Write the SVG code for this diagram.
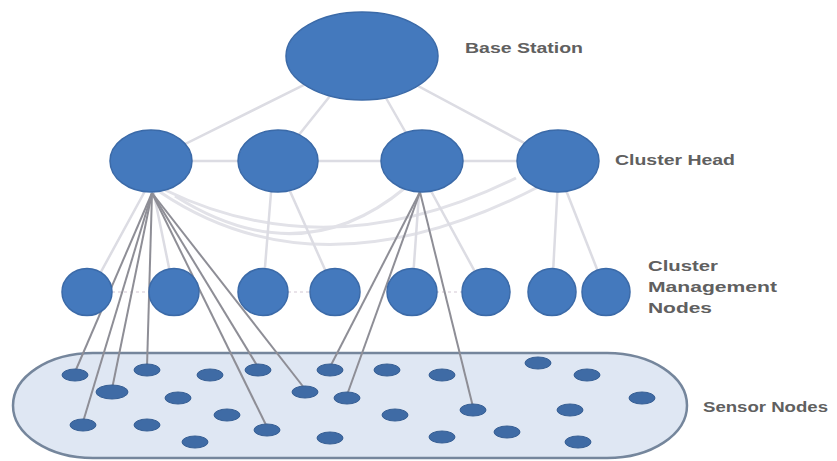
<svg xmlns="http://www.w3.org/2000/svg" width="837" height="461" viewBox="0 0 837 461">
<style>
.node{fill:#4479bd;stroke:#3b6aa8;stroke-width:1.5}
.sn{fill:#3f6ba5;stroke:#375f94;stroke-width:1}
.lite{stroke:#dcdce3;stroke-width:2.5;fill:none;stroke-linecap:round}
.curve{stroke:#e2e2e8;stroke-width:3;fill:none}
.dark{stroke:#8e8e96;stroke-width:2;fill:none}
.faint{stroke:#e2dae2;stroke-width:1.5;stroke-dasharray:3 3;fill:none}
.lbl{font-family:"Liberation Sans",Arial,sans-serif;font-size:15px;font-weight:bold;fill:#606060}
</style>
<rect width="837" height="461" fill="#ffffff"/>
<g id="sensor-field">
<rect x="13" y="353" width="674" height="105" rx="80" ry="52.5" fill="#dfe7f3" stroke="#75869c" stroke-width="2.5"/>
</g>
<g id="connectors">
<line class="lite" x1="362" y1="56" x2="151" y2="161"/>
<line class="lite" x1="362" y1="56" x2="278" y2="161"/>
<line class="lite" x1="362" y1="56" x2="422" y2="161"/>
<line class="lite" x1="362" y1="56" x2="558" y2="161"/>
<line class="lite" x1="151" y1="161" x2="558" y2="161"/>
<path class="curve" d="M160,192 Q320,300 540,186"/>
<path class="curve" d="M165,190 Q330,270 516,178"/>
<path class="curve" d="M405,188 Q300,275 175,196"/>
<line class="lite" x1="151" y1="180" x2="90" y2="292"/>
<line class="lite" x1="151" y1="180" x2="174" y2="292"/>
<line class="lite" x1="272" y1="180" x2="263" y2="292"/>
<line class="lite" x1="285" y1="180" x2="335" y2="292"/>
<line class="lite" x1="420" y1="180" x2="412" y2="292"/>
<line class="lite" x1="425" y1="180" x2="486" y2="292"/>
<line class="lite" x1="558" y1="180" x2="552" y2="292"/>
<line class="lite" x1="562" y1="180" x2="606" y2="292"/>
<line class="faint" x1="112" y1="292" x2="150" y2="292"/>
<line class="faint" x1="288" y1="292" x2="312" y2="292"/>
<line class="faint" x1="436" y1="292" x2="462" y2="292"/>
<line class="dark" x1="152" y1="193" x2="75" y2="372"/>
<line class="dark" x1="152" y1="193" x2="112" y2="389"/>
<line class="dark" x1="152" y1="193" x2="147" y2="367"/>
<line class="dark" x1="152" y1="193" x2="83" y2="422"/>
<line class="dark" x1="152" y1="193" x2="258" y2="367"/>
<line class="dark" x1="152" y1="193" x2="305" y2="389"/>
<line class="dark" x1="152" y1="193" x2="267" y2="427"/>
<line class="dark" x1="420" y1="192" x2="330" y2="367"/>
<line class="dark" x1="420" y1="192" x2="347" y2="395"/>
<line class="dark" x1="420" y1="192" x2="473" y2="407"/>
</g>
<g id="base-station"><ellipse class="node" cx="362" cy="56" rx="76" ry="44"/></g>
<g id="ch1"><ellipse class="node" cx="151" cy="161" rx="41" ry="31"/></g>
<g id="ch2"><ellipse class="node" cx="278" cy="161" rx="40" ry="31"/></g>
<g id="ch3"><ellipse class="node" cx="422" cy="161" rx="41" ry="31"/></g>
<g id="ch4"><ellipse class="node" cx="558" cy="161" rx="41" ry="31"/></g>
<g id="cmn1"><ellipse class="node" cx="87" cy="292" rx="25" ry="23.5"/></g>
<g id="cmn2"><ellipse class="node" cx="174" cy="292" rx="25" ry="23.5"/></g>
<g id="cmn3"><ellipse class="node" cx="263" cy="292" rx="25" ry="23.5"/></g>
<g id="cmn4"><ellipse class="node" cx="335" cy="292" rx="25" ry="23.5"/></g>
<g id="cmn5"><ellipse class="node" cx="412" cy="292" rx="25" ry="23.5"/></g>
<g id="cmn6"><ellipse class="node" cx="486" cy="292" rx="24" ry="23.5"/></g>
<g id="cmn7"><ellipse class="node" cx="552" cy="292" rx="24" ry="23.5"/></g>
<g id="cmn8"><ellipse class="node" cx="606" cy="292" rx="24" ry="23.5"/></g>
<g id="sensors">
<ellipse class="sn" cx="75" cy="375" rx="13" ry="6"/>
<ellipse class="sn" cx="147" cy="370" rx="13" ry="6"/>
<ellipse class="sn" cx="112" cy="392" rx="16" ry="7"/>
<ellipse class="sn" cx="210" cy="375" rx="13" ry="6"/>
<ellipse class="sn" cx="178" cy="398" rx="13" ry="6"/>
<ellipse class="sn" cx="258" cy="370" rx="13" ry="6"/>
<ellipse class="sn" cx="305" cy="392" rx="13" ry="6"/>
<ellipse class="sn" cx="330" cy="370" rx="13" ry="6"/>
<ellipse class="sn" cx="347" cy="398" rx="13" ry="6"/>
<ellipse class="sn" cx="387" cy="370" rx="13" ry="6"/>
<ellipse class="sn" cx="227" cy="415" rx="13" ry="6"/>
<ellipse class="sn" cx="395" cy="415" rx="13" ry="6"/>
<ellipse class="sn" cx="83" cy="425" rx="13" ry="6"/>
<ellipse class="sn" cx="147" cy="425" rx="13" ry="6"/>
<ellipse class="sn" cx="195" cy="442" rx="13" ry="6"/>
<ellipse class="sn" cx="267" cy="430" rx="13" ry="6"/>
<ellipse class="sn" cx="330" cy="438" rx="13" ry="6"/>
<ellipse class="sn" cx="442" cy="375" rx="13" ry="6"/>
<ellipse class="sn" cx="538" cy="363" rx="13" ry="6"/>
<ellipse class="sn" cx="587" cy="375" rx="13" ry="6"/>
<ellipse class="sn" cx="642" cy="398" rx="13" ry="6"/>
<ellipse class="sn" cx="473" cy="410" rx="13" ry="6"/>
<ellipse class="sn" cx="570" cy="410" rx="13" ry="6"/>
<ellipse class="sn" cx="442" cy="437" rx="13" ry="6"/>
<ellipse class="sn" cx="507" cy="432" rx="13" ry="6"/>
<ellipse class="sn" cx="578" cy="442" rx="13" ry="6"/>
</g>
<g id="labels">
<text class="lbl" x="465" y="53" textLength="118" lengthAdjust="spacingAndGlyphs">Base Station</text>
<text class="lbl" x="615" y="165" textLength="120" lengthAdjust="spacingAndGlyphs">Cluster Head</text>
<text class="lbl" x="648" y="271" textLength="70" lengthAdjust="spacingAndGlyphs">Cluster</text>
<text class="lbl" x="648" y="292" textLength="129" lengthAdjust="spacingAndGlyphs">Management</text>
<text class="lbl" x="648" y="313" textLength="64" lengthAdjust="spacingAndGlyphs">Nodes</text>
<text class="lbl" x="703" y="412" textLength="125" lengthAdjust="spacingAndGlyphs">Sensor Nodes</text>
</g>
</svg>
